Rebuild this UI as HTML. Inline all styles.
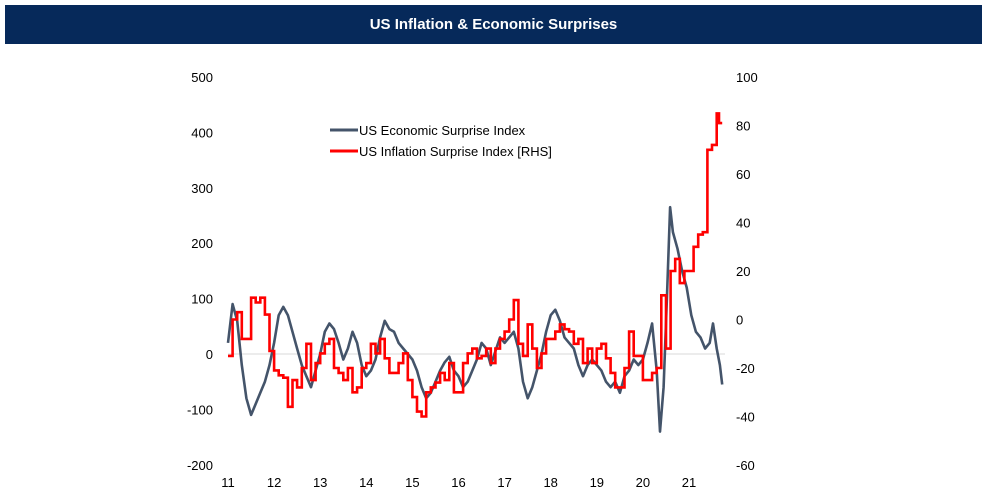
<!DOCTYPE html>
<html><head><meta charset="utf-8"><style>
body{margin:0;background:#fff;width:987px;height:494px;overflow:hidden;font-family:"Liberation Sans",Arial,sans-serif}
#title{position:absolute;left:5px;top:5px;width:977px;height:39px;background:#06295a;color:#fff;font-weight:bold;font-size:15px;text-align:center;line-height:39px}
svg{position:absolute;left:0;top:0}
</style></head><body>
<div id="title">US Inflation &amp; Economic Surprises</div>
<svg id="chart" width="987" height="494"></svg>
<script>
const leftTicks=[500,400,300,200,100,0,-100,-200];
const rightTicks=[100,80,60,40,20,0,-20,-40,-60];
const xTicks=[11,12,13,14,15,16,17,18,19,20,21];
const esiDates=[2011.0,2011.1,2011.2,2011.3,2011.4,2011.5,2011.6,2011.7,2011.8,2011.9,2012.0,2012.1,2012.2,2012.3,2012.4,2012.5,2012.6,2012.7,2012.8,2012.9,2013.0,2013.1,2013.2,2013.3,2013.4,2013.5,2013.6,2013.7,2013.8,2013.9,2014.0,2014.1,2014.2,2014.3,2014.4,2014.5,2014.6,2014.7,2014.8,2014.9,2015.0,2015.1,2015.2,2015.3,2015.4,2015.5,2015.6,2015.7,2015.8,2015.9,2016.0,2016.1,2016.2,2016.3,2016.4,2016.5,2016.6,2016.7,2016.8,2016.9,2017.0,2017.1,2017.2,2017.3,2017.4,2017.5,2017.6,2017.7,2017.8,2017.9,2018.0,2018.1,2018.2,2018.3,2018.4,2018.5,2018.6,2018.7,2018.8,2018.9,2019.0,2019.1,2019.2,2019.3,2019.4,2019.5,2019.6,2019.7,2019.8,2019.9,2020.0,2020.1,2020.2,2020.3,2020.37,2020.45,2020.52,2020.59,2020.65,2020.75,2020.85,2020.95,2021.05,2021.15,2021.25,2021.35,2021.45,2021.52,2021.6,2021.67,2021.72];
const esiValues=[20,90,60,-20,-80,-110,-90,-70,-50,-20,20,70,85,70,40,10,-20,-40,-60,-30,0,40,55,45,20,-10,10,40,20,-20,-40,-30,-10,30,60,45,40,20,10,0,-10,-30,-60,-80,-70,-50,-30,-15,-5,-30,-40,-60,-50,-30,-10,20,10,-20,5,30,20,30,40,10,-50,-80,-60,-30,0,40,70,80,60,30,20,10,-20,-40,-20,-10,-20,-30,-50,-60,-50,-70,-40,-30,-10,-20,-10,20,55,-30,-140,-60,100,265,220,190,150,120,70,40,30,10,20,55,10,-20,-55];
const infDates=[2011.0,2011.1,2011.2,2011.3,2011.4,2011.5,2011.6,2011.7,2011.8,2011.9,2012.0,2012.1,2012.2,2012.3,2012.4,2012.5,2012.6,2012.7,2012.8,2012.9,2013.0,2013.1,2013.2,2013.3,2013.4,2013.5,2013.6,2013.7,2013.8,2013.9,2014.0,2014.1,2014.2,2014.3,2014.4,2014.5,2014.6,2014.7,2014.8,2014.9,2015.0,2015.1,2015.2,2015.3,2015.4,2015.5,2015.6,2015.7,2015.8,2015.9,2016.0,2016.1,2016.2,2016.3,2016.4,2016.5,2016.6,2016.7,2016.8,2016.9,2017.0,2017.1,2017.2,2017.3,2017.4,2017.5,2017.6,2017.7,2017.8,2017.9,2018.0,2018.1,2018.2,2018.3,2018.4,2018.5,2018.6,2018.7,2018.8,2018.9,2019.0,2019.1,2019.2,2019.3,2019.4,2019.5,2019.6,2019.7,2019.8,2019.9,2020.0,2020.1,2020.2,2020.3,2020.4,2020.5,2020.6,2020.7,2020.8,2020.9,2021.0,2021.1,2021.2,2021.3,2021.4,2021.5,2021.6,2021.65,2021.72];
const infValues=[-15,0,3,-8,-8,9,7,9,2,-13,-21,-23,-24,-36,-25,-28,-20,-10,-25,-18,-14,-10,-8,-20,-22,-25,-20,-30,-28,-20,-18,-10,-14,-8,-16,-22,-22,-18,-14,-25,-32,-38,-40,-30,-28,-26,-22,-25,-18,-30,-30,-18,-14,-12,-16,-15,-12,-18,-12,-8,-5,0,8,-10,-15,-2,-12,-20,-14,-8,-8,-5,-2,-4,-5,-10,-8,-18,-12,-18,-12,-10,-16,-22,-28,-28,-20,-5,-15,-15,-25,-25,-22,-20,10,-12,20,25,15,20,20,30,35,36,70,72,85,81,81];
const NS='http://www.w3.org/2000/svg';
const svg=document.getElementById('chart');
const xs=d=>228+(d-2011)*46.1;
const yl=v=>354-v*0.554;
const yr=v=>319.5-v*2.425;
function mk(t,a){const e=document.createElementNS(NS,t);for(const k in a)e.setAttribute(k,a[k]);svg.appendChild(e);return e;}
const zl=mk('line',{x1:228,x2:725,y1:yl(0),y2:yl(0),stroke:'#d9d9d9','stroke-width':1});


leftTicks.forEach(v=>{const t=mk('text',{x:213,y:yl(v)+5,'text-anchor':'end','font-size':13,fill:'#000'});t.textContent=v;

});
rightTicks.forEach(v=>{const t=mk('text',{x:736,y:yr(v)+5,'font-size':13,fill:'#000'});t.textContent=v;

});
xTicks.forEach(v=>{const t=mk('text',{x:xs(2000+v),y:487,'text-anchor':'middle','font-size':13,fill:'#000'});t.textContent=v;

});
let d1='';esiDates.forEach((d,i)=>{d1+=(i?'L':'M')+xs(d).toFixed(1)+' '+yl(esiValues[i]).toFixed(1);});
const p1=mk('path',{d:d1,fill:'none',stroke:'#44546a','stroke-width':2.6,'stroke-linejoin':'round'});


let d2='';infDates.forEach((d,i)=>{const x=xs(d).toFixed(1),y=yr(infValues[i]).toFixed(1);
if(i===0)d2+='M'+x+' '+y;else d2+='H'+x+'V'+y;});
const p2=mk('path',{d:d2,fill:'none',stroke:'#ff0000','stroke-width':2.6});


const l1=mk('line',{x1:330,x2:358,y1:130,y2:130,stroke:'#44546a','stroke-width':3});


const t1=mk('text',{x:359,y:135,'font-size':13,fill:'#000'});t1.textContent='US Economic Surprise Index';


const l2=mk('line',{x1:330,x2:358,y1:151,y2:151,stroke:'#ff0000','stroke-width':3});


const t2=mk('text',{x:359,y:156,'font-size':13,fill:'#000'});t2.textContent='US Inflation Surprise Index [RHS]';


</script>
</body></html>
